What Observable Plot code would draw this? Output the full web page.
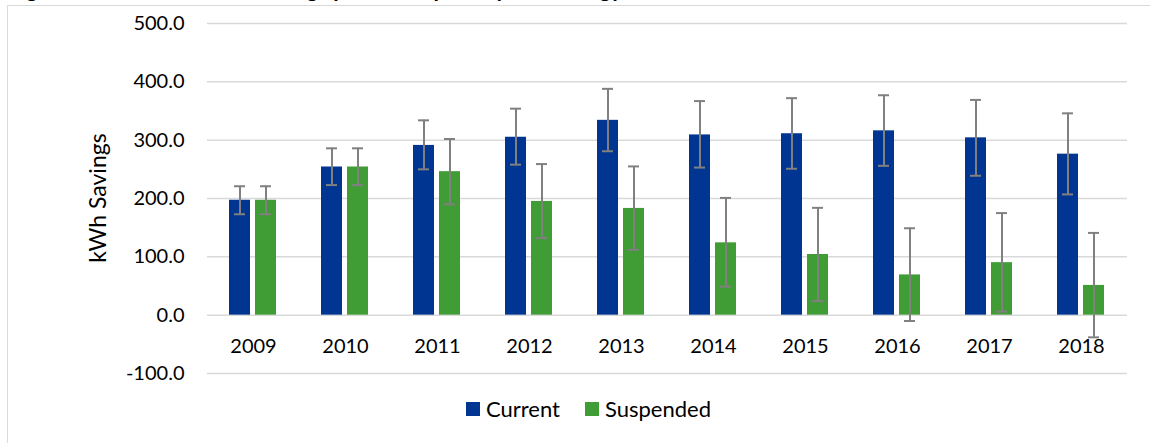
<!DOCTYPE html>
<html><head><meta charset="utf-8">
<script src="https://cdn.jsdelivr.net/npm/d3@7"></script>
<script src="https://cdn.jsdelivr.net/npm/@observablehq/plot@0.6"></script>
<style>
html,body{margin:0;padding:0;background:#fff;width:1150px;height:443px;overflow:hidden;font-family:Lato,"Open Sans",sans-serif;position:relative}
#frame{position:absolute;left:7px;top:5px;width:1200px;height:500px;border:1.5px solid #d9d9d9;box-sizing:border-box}
#title{position:absolute;left:8px;top:-25px;font-weight:bold;font-size:22px;line-height:28px;white-space:nowrap;color:#000}
#chart{position:absolute;left:0;top:0}
#ylabel{position:absolute;left:97px;top:198px;transform:translate(-50%,-50%) rotate(-90deg);font-size:23px;white-space:nowrap;color:#000}
#legend{position:absolute;left:466px;top:395px;display:flex;align-items:center;font-size:22px;color:#000}
.sw{width:14px;height:14px;display:inline-block;margin-right:6px}
.item{display:flex;align-items:center;margin-right:25px}
</style></head><body>
<div id="frame"></div>
<div id="title">Figure 3: Estimated kWh Savings per Participant by Technology, 2009–2018</div>
<div id="chart"></div>
<div id="ylabel">kWh Savings</div>
<div id="legend"></div>
<script>
const years = [2009, 2010, 2011, 2012, 2013, 2014, 2015, 2016, 2017, 2018];
const seriesNames = ["Current", "Suspended"];
const colors = ["#003591", "#409c35"];
const current = [197, 254, 291, 305, 334, 309, 311, 316, 304, 276];
const currentLow = [173, 223, 250, 258, 281, 253, 251, 256, 239, 207];
const currentHigh = [221, 286, 334, 354, 388, 367, 372, 377, 369, 346];
const suspended = [197, 254, 246, 195, 183, 124, 104, 69, 90, 51];
const suspendedLow = [173, 223, 190, 132, 112, 49, 24, -10, 6, -38];
const suspendedHigh = [221, 286, 302, 259, 255, 201, 184, 149, 175, 141];
const yTicks = [-100, 0, 100, 200, 300, 400, 500];

const rows = years.flatMap((y, i) => [
  {year: y, series: "Current", value: current[i], low: currentLow[i], high: currentHigh[i]},
  {year: y, series: "Suspended", value: suspended[i], low: suspendedLow[i], high: suspendedHigh[i]}
]);

const font = "Lato, 'Open Sans', sans-serif";
const chart = Plot.plot({
  width: 1150, height: 390,
  marginTop: 23, marginBottom: 17, marginLeft: 206, marginRight: 23,
  style: {fontFamily: font, fontSize: "20px", color: "#000", background: "transparent"},
  fx: {domain: years, padding: 0, axis: null},
  x: {domain: seriesNames, paddingInner: 0.19, paddingOuter: 0.86, axis: null},
  y: {domain: [-100, 500]},
  color: {domain: seriesNames, range: colors},
  marks: [
    Plot.ruleY(yTicks, {stroke: "#d9d9d9", strokeWidth: 1.5}),
    Plot.axisY({ticks: yTicks, tickFormat: d => d.toFixed(1), tickSize: 0, tickPadding: 23, fontSize: 20, label: null}),
    Plot.barY(rows, {fx: "year", x: "series", y: "value", fill: "series"}),
    Plot.ruleX(rows, {fx: "year", x: "series", y1: "low", y2: "high", stroke: "#808080", strokeWidth: 2}),
    Plot.tickY(rows, {fx: "year", x: "series", y: "low", stroke: "#808080", strokeWidth: 2, insetLeft: 5, insetRight: 5}),
    Plot.tickY(rows, {fx: "year", x: "series", y: "high", stroke: "#808080", strokeWidth: 2, insetLeft: 5, insetRight: 5}),
    Plot.text(years, {fx: d => d, y: 0, text: d => String(d), dy: 31, fontSize: 20, fill: "#000"})
  ]
});
document.getElementById("chart").appendChild(chart);

const legend = document.getElementById("legend");
seriesNames.forEach((name, i) => {
  const item = document.createElement("div");
  item.className = "item";
  const sw = document.createElement("span");
  sw.className = "sw";
  sw.style.background = colors[i];
  const label = document.createElement("span");
  label.textContent = name;
  item.appendChild(sw);
  item.appendChild(label);
  legend.appendChild(item);
});
</script>
</body></html>
